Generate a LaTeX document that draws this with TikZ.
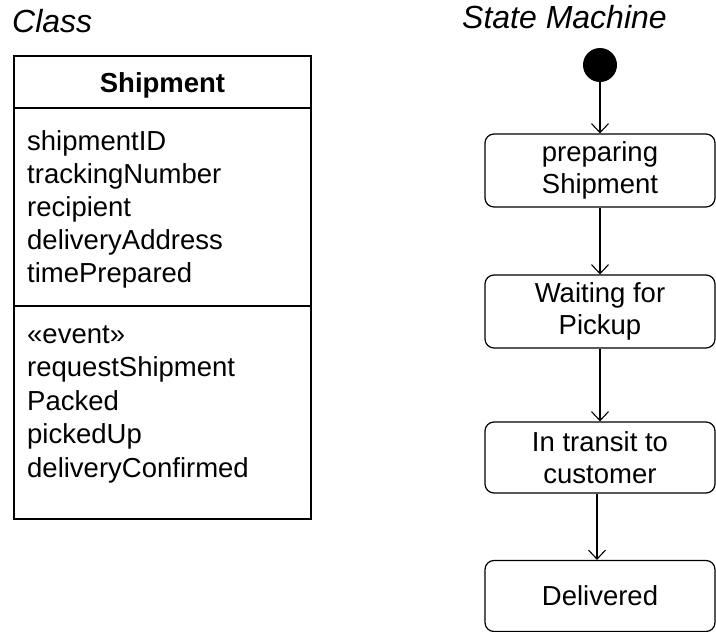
\documentclass[tikz,border=0pt]{standalone}
\usepackage{fontspec}
\setmainfont{Liberation Sans}
\usetikzlibrary{arrows.meta}
\begin{document}
\begin{tikzpicture}[x=1pt,y=-1pt,
  title/.style={anchor=base west,inner sep=0pt,font=\fontsize{32}{38}\selectfont\itshape},
  attr/.style={anchor=base west,inner sep=0pt,font=\fontsize{27.5}{33}\selectfont},
  statebox/.style={draw,line width=1.2pt,rounded corners=9pt,minimum width=230pt,align=center,inner sep=0pt,font=\fontsize{27.5}{32}\selectfont},
  trans/.style={line width=1.1pt,-{Straight Barb[length=9pt,width=17pt,line width=1.1pt]}},
  clsline/.style={line width=1.6pt}]
\useasboundingbox (0,0) rectangle (716,632);
% titles
\node[title] (tcls) at (12,32) {Class};
\node[title] (tsm) at (462,28) {State Machine};
% class box
\node[draw,clsline,minimum width=297pt,minimum height=463pt,inner sep=0pt] (cls) at (162.5,287.5) {};
\coordinate (d1l) at (14,108); \coordinate (d1r) at (311,108);
\coordinate (d2l) at (14,306); \coordinate (d2r) at (311,306);
\draw[clsline] (d1l) -- (d1r);
\draw[clsline] (d2l) -- (d2r);
\node[anchor=base,inner sep=0pt,font=\fontsize{27.5}{33}\selectfont\bfseries] (hdr) at (162.5,92) {Shipment};
\node[attr] (a1) at (27,150) {shipmentID};
\node[attr] (a2) at (27,183) {trackingNumber};
\node[attr] (a3) at (27,216) {recipient};
\node[attr] (a4) at (27,249) {deliveryAddress};
\node[attr] (a5) at (27,282) {timePrepared};
\node[attr] (e0) at (27,343) {«event»};
\node[attr] (e1) at (27,376.5) {requestShipment};
\node[attr] (e2) at (27,410) {Packed};
\node[attr] (e3) at (27,443.5) {pickedUp};
\node[attr] (e4) at (27,477) {deliveryConfirmed};
% state machine
\node[circle,fill=black,minimum size=34pt,inner sep=0pt] (init) at (600,65) {};
\node[statebox,minimum height=73pt] (s1) at (600,170.5) {preparing\\Shipment};
\node[statebox,minimum height=73pt] (s2) at (600,311.5) {Waiting for\\Pickup};
\node[statebox,minimum height=71pt] (s3) at (600,457.5) {In transit to\\customer};
\node[statebox,minimum height=71pt] (s4) at (600,596) {Delivered};
\draw[trans] (init) -- (s1);
\draw[trans] (s1) -- (s2);
\draw[trans] (s2) -- (s3);
\draw[trans] ([xshift=-3pt]s3.south) -- ([xshift=-3pt]s4.north);
\end{tikzpicture}
\end{document}
